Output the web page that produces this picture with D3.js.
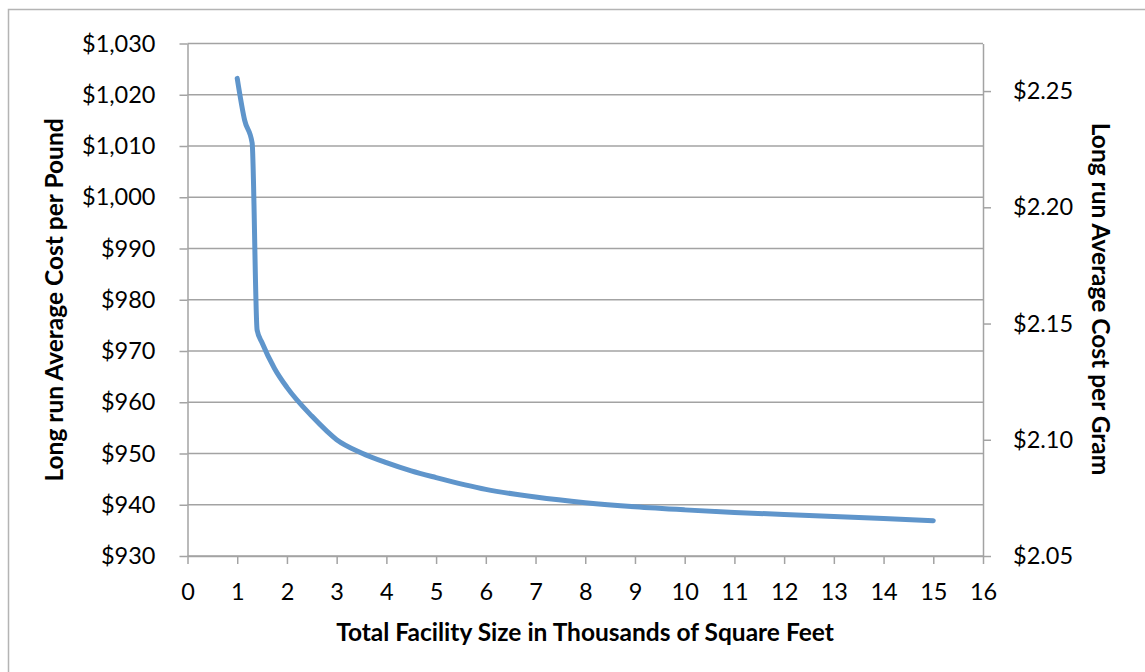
<!DOCTYPE html>
<html>
  <head>
    <script src="https://d3js.org/d3.v7.min.js"></script>
  </head>
  <style>
  body { margin: 0; background: #fff; }
  text { font-family: Lato, "Open Sans", sans-serif; fill: #000; }
  </style>
  <body>
    <svg id="chart" width="1145" height="672"></svg>

    <script>
    // data
    const sizeK = [1, 1.15, 1.3, 1.4, 1.5, 1.75, 2, 2.5, 3, 3.5, 4, 4.5, 5, 6, 7, 8, 9, 10, 11, 12, 13, 14, 15];
    const costLb = [1023.2, 1015.0, 1010.6, 974.1, 971.6, 966.6, 962.9, 957.3, 952.7, 950.1, 948.2, 946.6, 945.3,
                    943.0, 941.5, 940.4, 939.6, 939.0, 938.5, 938.1, 937.7, 937.3, 936.9];
    const xTicks = d3.range(0, 17);
    const leftTicks = d3.range(930, 1031, 10);
    const rightTicks = [2.05, 2.10, 2.15, 2.20, 2.25];
    const xTitle = "Total Facility Size in Thousands of Square Feet";
    const leftTitle = "Long run Average Cost per Pound";
    const rightTitle = "Long run Average Cost per Gram";

    const svg = d3.select("#chart");
    const plotL = 187.5, plotR = 983, plotT = 43.5, plotB = 556;
    const gray = "#a3a3a3";

    // outer frame (runs off the right/bottom edge)
    svg.append("rect")
      .attr("x", 8.5).attr("y", 9.5)
      .attr("width", 1200).attr("height", 700)
      .attr("fill", "none").attr("stroke", "#b4b4b4").attr("stroke-width", 1.5);

    const x = d3.scaleLinear().domain([0, 16]).range([plotL, plotR]);
    const y = d3.scaleLinear().domain([930, 1030]).range([plotB, plotT]);
    const y2 = d3.scaleLinear().domain([2.05, 2.05 + 100 / 453.592]).range([plotB, plotT]);

    // gridlines
    svg.append("g").selectAll("line").data(leftTicks).enter().append("line")
      .attr("x1", plotL).attr("x2", plotR)
      .attr("y1", d => y(d)).attr("y2", d => y(d))
      .attr("stroke", gray).attr("stroke-width", 1.5);

    const fmtL = d => "$" + d3.format(",")(d);
    const fmtR = d => "$" + d3.format(".2f")(d);

    let gl = svg.append("g").attr("transform", "translate(" + plotL + ",0)")
      .call(d3.axisLeft(y).tickValues(leftTicks).tickSize(8).tickPadding(24).tickFormat(fmtL).tickSizeOuter(0));
    let gb = svg.append("g").attr("transform", "translate(0," + plotB + ")")
      .call(d3.axisBottom(x).tickValues(xTicks).tickSize(8).tickPadding(19).tickFormat(d3.format("d")).tickSizeOuter(0));
    let gr = svg.append("g").attr("transform", "translate(" + plotR + ",0)")
      .call(d3.axisRight(y2).tickValues(rightTicks).tickSize(8).tickPadding(22).tickFormat(fmtR).tickSizeOuter(0));

    [gl, gb, gr].forEach(function(g) {
      g.selectAll("path.domain").attr("stroke", gray).attr("stroke-width", 1.5);
      g.selectAll(".tick line").attr("stroke", gray).attr("stroke-width", 1.5);
      g.selectAll("text").attr("font-family", "Lato, sans-serif").attr("font-size", 23.5).attr("fill", "#000");
    });

    // the curve
    const line = d3.line().x(d => x(d[0])).y(d => y(d[1])).curve(d3.curveMonotoneX);
    svg.append("path")
      .datum(d3.zip(sizeK, costLb))
      .attr("d", line)
      .attr("fill", "none")
      .attr("stroke", "#5f95cb")
      .attr("stroke-width", 5)
      .attr("stroke-linejoin", "round")
      .attr("stroke-linecap", "round");

    // axis titles
    svg.append("text")
      .attr("x", 585).attr("y", 641)
      .attr("text-anchor", "middle").attr("font-weight", "bold").attr("font-size", 24.5)
      .text(xTitle);
    svg.append("text")
      .attr("transform", "translate(63,300) rotate(-90)")
      .attr("text-anchor", "middle").attr("font-weight", "bold").attr("font-size", 24.5)
      .text(leftTitle);
    svg.append("text")
      .attr("transform", "translate(1092,299) rotate(90)")
      .attr("text-anchor", "middle").attr("font-weight", "bold").attr("font-size", 24.5)
      .text(rightTitle);
    </script>
  </body>
</html>
